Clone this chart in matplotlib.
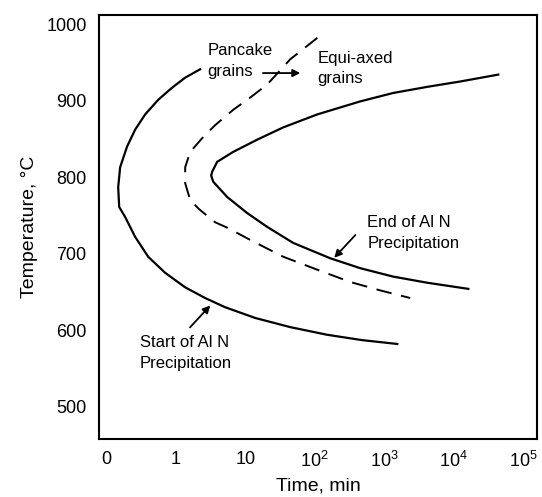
import matplotlib
matplotlib.use("Agg")
import matplotlib.pyplot as plt

plt.rcParams['font.family'] = ['Liberation Sans', 'DejaVu Sans']
plt.rcParams['mathtext.fontset'] = 'custom'
plt.rcParams['mathtext.rm'] = 'Liberation Sans'
plt.rcParams['mathtext.default'] = 'regular'

# Start of AlN precipitation (time in min, temperature in C)
start_t = [2.25, 1.37, 0.89, 0.56, 0.364, 0.261, 0.200, 0.159, 0.149, 0.154, 0.1875,
           0.261, 0.402, 0.706, 1.37, 2.66, 5.15, 13.9, 44.4, 151, 482, 1540]
start_T = [941, 930, 917, 901, 882, 862, 840, 813, 787, 761, 748,
           722, 696, 675, 656, 642, 630, 616, 604, 594, 587, 582]

# Pancake / equi-axed grain boundary (dashed)
grain_t = [109, 44.4, 20.7, 11.8, 6.72, 3.70, 2.41, 1.62, 1.37, 1.37, 1.62, 2.18,
           3.70, 5.51, 11.8, 35.2, 109, 324, 875, 2366]
grain_T = [982, 954, 921, 904, 888, 868, 851, 833, 813, 792, 770, 758,
           741, 734, 718, 696, 679, 663, 652, 642]

# End of AlN precipitation
end_t = [43650, 12400, 4160, 1347, 452, 109, 35.2, 14.9, 6.72, 3.95, 3.35, 3.24, 3.47,
         5.51, 10.7, 20.7, 49.1, 167, 452, 1347, 4160, 16200]
end_T = [934, 925, 918, 910, 899, 882, 865, 849, 833, 820, 807, 802, 794,
         774, 753, 735, 714, 694, 681, 670, 662, 654]

xticks = [0.1, 1, 10, 100, 1000, 10000, 100000]
xlabels = ['0', '1', '10', '$10^2$', '$10^3$', '$10^4$', '$10^5$']
yticks = [500, 600, 700, 800, 900, 1000]

fig = plt.figure(figsize=(5.42, 4.97), dpi=100)
ax = fig.add_axes([0.183, 0.117, 0.808, 0.853])

ax.plot(start_t, start_T, color='black', lw=1.6)
ax.plot(grain_t, grain_T, color='black', lw=1.4, dashes=(8, 5))
ax.plot(end_t, end_T, color='black', lw=1.6)

ax.set_xscale('log')
ax.set_xlim(0.0794, 1.58e5)
ax.set_ylim(458, 1012)
ax.set_xticks(xticks)
ax.set_xticklabels(xlabels)
ax.set_yticks(yticks)
ax.minorticks_off()
ax.tick_params(length=0, labelsize=13, pad=9)
for s in ax.spines.values():
    s.set_linewidth(1.5)

ax.set_xlabel('Time, min', fontsize=14, labelpad=4)
ax.set_ylabel('Temperature, \u00b0C', fontsize=14, labelpad=6)

fs = 12
ls = 1.45
ap = dict(arrowstyle='-|>', color='black', lw=1.3, mutation_scale=11)
ax.text(2.84, 952, 'Pancake\ngrains', fontsize=fs, va='center', ha='left', linespacing=ls)
ax.annotate('', xy=(68, 936), xytext=(16.4, 936), arrowprops=ap)
ax.text(109, 942, 'Equi-axed\ngrains', fontsize=fs, va='center', ha='left', linespacing=ls)
ax.text(569, 727, 'End of Al N\nPrecipitation', fontsize=fs, va='center', ha='left', linespacing=ls)
ax.annotate('', xy=(179, 692), xytext=(409, 727), arrowprops=ap)
ax.text(0.308, 570, 'Start of Al N\nPrecipitation', fontsize=fs, va='center', ha='left', linespacing=ls)
ax.annotate('', xy=(3.35, 635), xytext=(1.51, 601), arrowprops=ap)

fig.savefig('out.png', dpi=100)
